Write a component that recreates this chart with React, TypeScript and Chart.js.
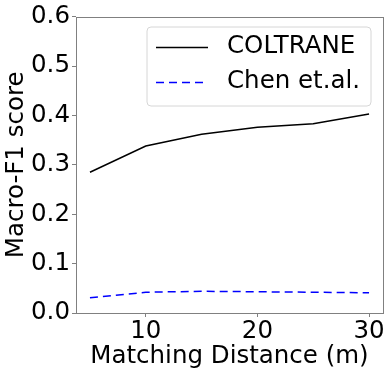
import React, { useEffect, useRef } from "react";
import { Chart, registerables } from "chart.js";

Chart.register(...registerables);

const distances = [5, 10, 15, 20, 25, 30];
const coltrane = [0.285, 0.338, 0.362, 0.376, 0.383, 0.403];
const chen = [0.031, 0.042, 0.044, 0.043, 0.042, 0.041];
const xTicks = [10, 20, 30];
const seriesLabels = ["COLTRANE", "Chen et.al."];

const FONT = "'DejaVu Sans', sans-serif";
const FS = 24.5;
const SPINE = "#808080";

const framePlugin = {
  id: "frame",
  afterDraw(chart: any) {
    const { ctx, chartArea: a } = chart;
    ctx.save();
    ctx.strokeStyle = SPINE;
    ctx.lineWidth = 1;
    ctx.strokeRect(Math.round(a.left) + 0.5, Math.round(a.top) + 0.5, Math.round(a.right - a.left), Math.round(a.bottom - a.top));
    ctx.restore();
  },
};

const legendPlugin = {
  id: "innerLegend",
  afterDraw(chart: any) {
    const { ctx } = chart;
    const x0 = 147, y0 = 27, w = 224, h = 79, r = 4;
    ctx.save();
    ctx.beginPath();
    ctx.moveTo(x0 + r, y0);
    ctx.arcTo(x0 + w, y0, x0 + w, y0 + h, r);
    ctx.arcTo(x0 + w, y0 + h, x0, y0 + h, r);
    ctx.arcTo(x0, y0 + h, x0, y0, r);
    ctx.arcTo(x0, y0, x0 + w, y0, r);
    ctx.closePath();
    ctx.fillStyle = "rgba(255,255,255,0.8)";
    ctx.fill();
    ctx.strokeStyle = "#d6d6d6";
    ctx.lineWidth = 1;
    ctx.stroke();
    const rows = [47, 82];
    chart.data.datasets.forEach((ds: any, i: number) => {
      const y = rows[i] + 0.5;
      ctx.beginPath();
      ctx.setLineDash(ds.borderDash || []);
      ctx.strokeStyle = ds.borderColor;
      ctx.lineWidth = ds.borderWidth;
      ctx.moveTo(156, y);
      ctx.lineTo(208, y);
      ctx.stroke();
      ctx.setLineDash([]);
      ctx.fillStyle = "#000";
      ctx.font = `${FS}px ${FONT}`;
      ctx.textBaseline = "middle";
      ctx.textAlign = "left";
      ctx.fillText(ds.label, 227, rows[i]);
    });
    ctx.restore();
  },
};

export default function App() {
  const ref = useRef<HTMLCanvasElement>(null);
  useEffect(() => {
    document.body.style.margin = "0";
    const chart = new Chart(ref.current!, {
      type: "line",
      data: {
        datasets: [
          {
            label: seriesLabels[0],
            data: distances.map((d, i) => ({ x: d, y: coltrane[i] })),
            borderColor: "#000000",
            borderWidth: 1.5,
            pointRadius: 0,
            tension: 0,
          },
          {
            label: seriesLabels[1],
            data: distances.map((d, i) => ({ x: d, y: chen[i] })),
            borderColor: "#0000ff",
            borderWidth: 1.5,
            borderDash: [8, 5],
            pointRadius: 0,
            tension: 0,
          },
        ],
      },
      options: {
        animation: false,
        responsive: false,
        layout: { padding: { top: 14, right: 8, left: 0, bottom: 0 } },
        plugins: { legend: { display: false }, tooltip: { enabled: false } },
        scales: {
          x: {
            type: "linear",
            min: 3.75,
            max: 31.25,
            afterBuildTicks: (s: any) => {
              s.ticks = xTicks.map((v) => ({ value: v }));
            },
            afterFit: (s: any) => {
              s.height = 61;
            },
            border: { display: false },
            grid: { drawOnChartArea: false, drawTicks: true, tickLength: 4, color: SPINE },
            ticks: { color: "#000", font: { family: FONT, size: FS }, padding: 0, maxRotation: 0 },
            title: {
              display: true,
              text: "Matching Distance (m)",
              color: "#000",
              font: { family: FONT, size: FS },
              padding: { top: 0, bottom: 3 },
            },
          },
          y: {
            min: 0,
            max: 0.6,
            afterFit: (s: any) => {
              s.width = 76;
            },
            border: { display: false },
            grid: { drawOnChartArea: false, drawTicks: true, tickLength: 4, color: SPINE },
            ticks: {
              stepSize: 0.1,
              color: "#000",
              font: { family: FONT, size: FS },
              padding: 2,
              callback: (v: any) => Number(v).toFixed(1),
            },
            title: {
              display: true,
              text: "Macro-F1 score",
              color: "#000",
              font: { family: FONT, size: FS },
              padding: { top: 2, bottom: 0 },
            },
          },
        },
      },
      plugins: [framePlugin, legendPlugin],
    });
    return () => chart.destroy();
  }, []);
  return <canvas ref={ref} width={391} height={374} style={{ display: "block" }} />;
}
